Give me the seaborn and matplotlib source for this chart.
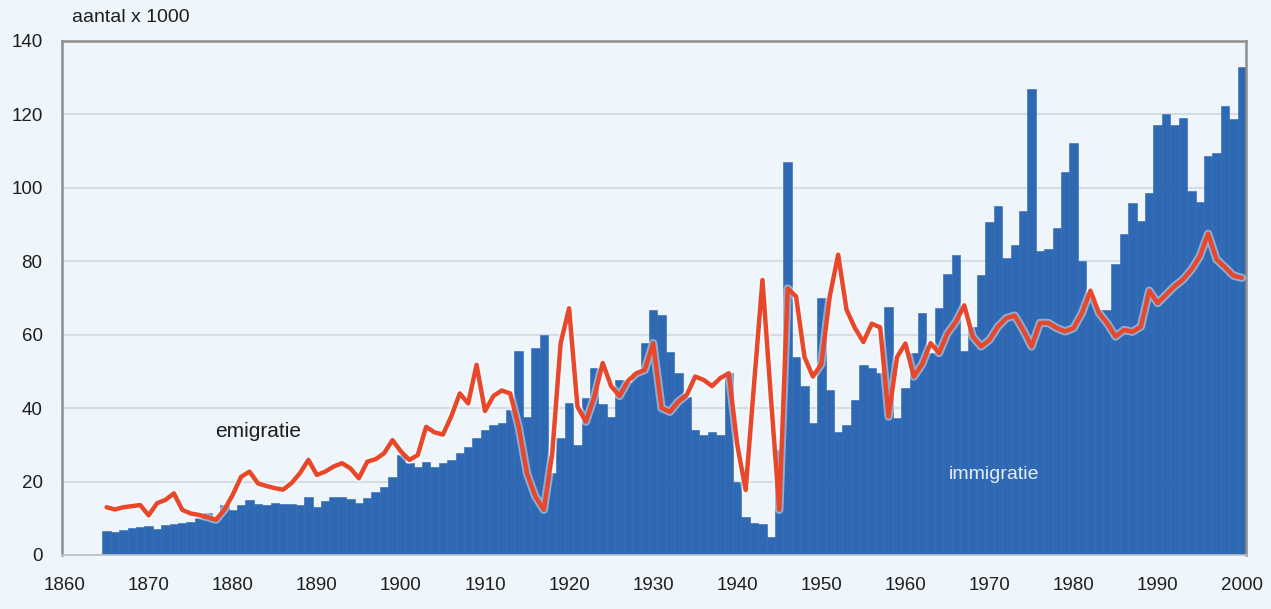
import matplotlib
matplotlib.use("Agg")
import matplotlib.pyplot as plt
import matplotlib.patheffects as pe
import pandas as pd
import seaborn as sns

# ==========================================
# Data (aantal x 1000), 1865 - 2000
# ==========================================

years = list(range(1865, 2001))

immigratie = [
    6.4, 6.2, 6.9, 7.3, 7.6, 7.8, 7.2, 8.2, 8.4, 8.8,             # 1865-1874
    9.1, 10.0, 11.3, 10.0, 13.6, 12.3, 13.6, 15.0, 14.0, 13.5,     # 1875-1884
    14.1, 13.8, 13.8, 13.6, 15.7, 13.0, 14.8, 15.7, 15.7, 15.2,    # 1885-1894
    14.1, 15.5, 17.2, 18.6, 21.3, 27.2, 25.0, 24.0, 25.2, 24.1,    # 1895-1904
    25.0, 25.9, 27.7, 29.5, 31.8, 34.0, 35.4, 35.9, 39.5, 55.6,    # 1905-1914
    37.7, 56.3, 60.0, 22.2, 31.8, 41.3, 30.0, 42.7, 50.9, 41.0,    # 1915-1924
    37.6, 47.7, 47.0, 49.6, 57.8, 66.8, 65.4, 55.3, 49.6, 43.0,    # 1925-1934
    34.0, 32.7, 33.5, 32.7, 49.6, 20.0, 10.4, 8.6, 8.4, 5.0,       # 1935-1944
    28.6, 107.0, 54.0, 46.0, 36.0, 70.0, 45.0, 33.6, 35.4, 42.2,   # 1945-1954
    51.8, 51.0, 49.6, 67.6, 37.3, 45.5, 55.0, 66.0, 55.0, 67.2,    # 1955-1964
    76.6, 81.7, 55.6, 62.0, 76.2, 90.8, 95.0, 81.0, 84.5, 93.6,    # 1965-1974
    127.0, 82.7, 83.3, 89.0, 104.2, 112.3, 80.0, 70.0, 66.7, 66.7, # 1975-1984
    79.3, 87.4, 96.0, 91.0, 98.6, 117.2, 120.2, 117.2, 119.0, 99.2,  # 1985-1994
    96.1, 108.8, 109.6, 122.3, 118.8, 132.8,                       # 1995-2000
]

emigratie = [
    13.0, 12.4, 13.0, 13.3, 13.6, 10.8, 14.1, 15.0, 16.8, 12.3,    # 1865-1874
    11.3, 10.9, 10.3, 9.6, 12.3, 16.4, 21.3, 22.7, 19.5, 18.8,     # 1875-1884
    18.2, 17.8, 19.6, 22.3, 25.9, 21.8, 22.7, 24.1, 25.0, 23.6,    # 1885-1894
    20.9, 25.4, 26.1, 27.7, 31.3, 28.2, 25.9, 27.2, 34.9, 33.4,    # 1895-1904
    32.8, 37.8, 44.0, 41.3, 51.8, 39.2, 43.3, 44.8, 44.0, 35.0,    # 1905-1914
    22.2, 15.9, 12.3, 27.7, 57.7, 67.2, 40.4, 36.3, 43.0, 52.3,    # 1915-1924
    46.0, 43.3, 47.4, 49.5, 50.4, 57.7, 40.0, 39.0, 41.8, 43.6,    # 1925-1934
    48.6, 47.7, 46.0, 48.2, 49.5, 30.0, 17.7, 46.5, 74.9, 43.0,    # 1935-1944
    12.3, 72.6, 70.4, 53.9, 48.6, 52.0, 70.4, 81.8, 66.8, 61.8,    # 1945-1954
    58.0, 63.0, 62.0, 37.7, 53.9, 57.6, 48.6, 52.0, 57.7, 55.0,    # 1955-1964
    60.4, 63.5, 68.0, 59.5, 56.8, 58.6, 62.2, 64.5, 65.2, 61.3,    # 1965-1974
    56.8, 63.2, 63.2, 61.8, 60.9, 61.8, 65.9, 72.0, 66.0, 63.1,    # 1975-1984
    59.5, 61.3, 60.8, 62.2, 72.0, 68.6, 70.9, 73.2, 75.0, 77.7,    # 1985-1994
    81.3, 87.5, 80.5, 78.4, 76.1, 75.5,                            # 1995-2000
]

y_ticks = [0, 20, 40, 60, 80, 100, 120, 140]
x_ticks = [1860, 1870, 1880, 1890, 1900, 1910, 1920, 1930,
           1940, 1950, 1960, 1970, 1980, 1990, 2000]

df = pd.DataFrame({"jaar": years, "immigratie": immigratie, "emigratie": emigratie})

# ==========================================
# Plot
# ==========================================

sns.set_theme(style="white")
plt.rcParams["font.family"] = ["Liberation Sans", "DejaVu Sans"]

bg = "#eef5fb"
bar_blue = "#2f69b3"
line_red = "#e8472a"

fig, ax = plt.subplots(figsize=(12.71, 6.09), dpi=100)
fig.patch.set_facecolor(bg)
ax.set_facecolor(bg)
fig.subplots_adjust(left=0.0488, right=0.9803, bottom=0.0887, top=0.9327)

sns.barplot(
    data=df, x="jaar", y="immigratie",
    native_scale=True, width=1.0,
    color=bar_blue, saturation=1,
    edgecolor=bar_blue, linewidth=0.4,
    ax=ax, zorder=2
)

sns.lineplot(
    data=df, x="jaar", y="emigratie",
    color=line_red, linewidth=3.2,
    ax=ax, zorder=3,
    path_effects=[pe.Stroke(linewidth=6, foreground="white", alpha=0.45), pe.Normal()]
)

ax.set_xlim(1859.7, 2000.5)
ax.set_ylim(0, 140)
ax.set_xticks(x_ticks)
ax.set_yticks(y_ticks)
ax.set_xlabel("")
ax.set_ylabel("")

ax.set_axisbelow(True)
ax.yaxis.grid(True, color="#d6dce3", linewidth=1.5)
ax.xaxis.grid(False)

ax.tick_params(axis="x", length=0, pad=16, labelsize=13.5, labelcolor="#1e1e1e")
ax.tick_params(axis="y", length=0, pad=14, labelsize=13.5, labelcolor="#1e1e1e")

for side in ["left", "top", "right", "bottom"]:
    ax.spines[side].set_visible(True)
    ax.spines[side].set_color("#8e8e8e")
    ax.spines[side].set_linewidth(1.8)
ax.spines["bottom"].set_color("#b9c2cc")
ax.spines["bottom"].set_linewidth(1.2)

fig.text(72 / 1271, 1 - 18 / 609, "aantal x 1000", fontsize=14,
         color="#1e1e1e", va="center", ha="left")
ax.text(1883, 33.5, "emigratie", fontsize=15, color="#1e1e1e",
        ha="center", va="center", zorder=4)
ax.text(1970.5, 21.8, "immigratie", fontsize=14, color="#e6edf7",
        ha="center", va="center", zorder=4)

plt.savefig("out.png", dpi=100, facecolor=bg)
